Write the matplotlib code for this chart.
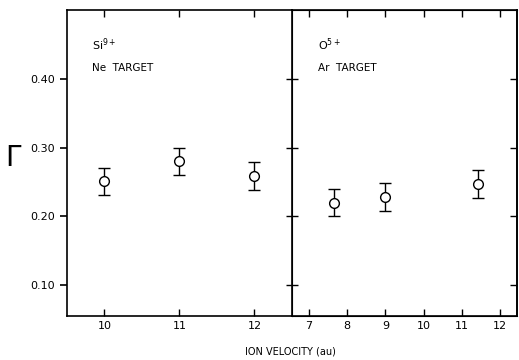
import matplotlib.pyplot as plt

# Si9+ on Ne target
si_v = [10, 11, 12]
si_gamma = [0.251, 0.280, 0.259]
si_err = [0.02, 0.02, 0.02]

# O5+ on Ar target
o_v = [7.65, 9.0, 11.42]
o_gamma = [0.220, 0.228, 0.247]
o_err = [0.02, 0.02, 0.02]

y_ticks = [0.10, 0.20, 0.30, 0.40]
y_labels = ['0.10', '0.20', '0.30', '0.40']

plt.rcParams['font.family'] = 'DejaVu Sans'

fig = plt.figure(figsize=(5.19, 3.6), dpi=100)
ax1 = fig.add_axes([0.129, 0.122, 0.4335, 0.85])
ax2 = fig.add_axes([0.5626, 0.122, 0.4335, 0.85])

for ax, v, g, e in [(ax1, si_v, si_gamma, si_err), (ax2, o_v, o_gamma, o_err)]:
    ax.errorbar(v, g, yerr=e, fmt='o', mfc='white', mec='black', ecolor='black',
                ms=7, mew=1.0, capsize=4, elinewidth=1.0, capthick=1.0)
    ax.set_ylim(0.055, 0.50)
    ax.set_yticks(y_ticks)
    for s in ax.spines.values():
        s.set_linewidth(1.2)

ax1.set_xlim(9.5, 12.5)
ax1.set_xticks([10, 11, 12])
ax1.set_xticklabels(['10', '11', '12'], fontsize=8)
ax1.set_yticklabels(y_labels, fontsize=8)
ax1.tick_params(axis='x', direction='in', top=True, length=5, width=1)
ax1.tick_params(axis='y', direction='out', length=5, width=1.2)
ax1.spines['right'].set_visible(False)

ax2.set_xlim(6.55, 12.45)
ax2.set_xticks([7, 8, 9, 10, 11, 12])
ax2.set_xticklabels(['7', '8', '9', '10', '11', '12'], fontsize=8)
ax2.tick_params(axis='x', direction='in', top=True, length=5, width=1)
ax2.tick_params(axis='y', direction='inout', labelleft=False, length=8, width=1)

# inward ticks on the far right spine
ax2r = ax2.twinx()
ax2r.set_ylim(ax2.get_ylim())
ax2r.set_yticks(y_ticks)
ax2r.tick_params(axis='y', direction='in', labelright=False, length=5, width=1)
ax2r.spines['right'].set_linewidth(1.2)

ax1.text(0.11, 0.87, 'Si$^{9+}$', transform=ax1.transAxes, fontsize=8)
ax1.text(0.11, 0.80, 'Ne  TARGET', transform=ax1.transAxes, fontsize=7.5)
ax2.text(0.115, 0.87, 'O$^{5+}$', transform=ax2.transAxes, fontsize=8)
ax2.text(0.115, 0.80, 'Ar  TARGET', transform=ax2.transAxes, fontsize=7.5)

fig.text(0.025, 0.56, 'Γ', fontsize=20, ha='center', va='center')
fig.text(0.56, 0.025, 'ION VELOCITY (au)', fontsize=7, ha='center', va='center')

fig.savefig('out.png', dpi=100)
